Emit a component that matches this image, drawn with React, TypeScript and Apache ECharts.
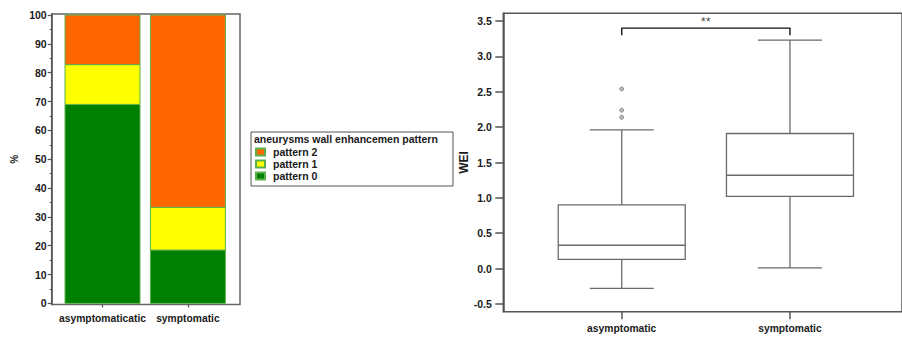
import React, { useEffect, useRef } from "react";
import * as echarts from "echarts";

// ---- Left chart data (stacked percentages) ----
const barCategories = ["asymptomaticatic", "symptomatic"];
const pattern0 = [69.0, 18.5];
const pattern1 = [13.8, 14.8];
const pattern2 = [17.2, 66.7];
const leftMajorTicks = [0, 10, 20, 30, 40, 50, 60, 70, 80, 90, 100];
const leftMinorTicks = [5, 15, 25, 35, 45, 55, 65, 75, 85, 95];
const legendTitle = "aneurysms wall enhancemen pattern";
const patternNames = ["pattern 0", "pattern 1", "pattern 2"];

// ---- Right chart data (WEI boxplots) ----
const boxCategories = ["asymptomatic", "symptomatic"];
const weiMin = [-0.28, 0.01];
const weiQ1 = [0.13, 1.02];
const weiMedian = [0.33, 1.32];
const weiQ3 = [0.9, 1.91];
const weiMax = [1.96, 3.23];
const outlierGroup = [1, 1, 1];
const outlierValues = [2.54, 2.24, 2.14];
const rightTicks = [-0.5, 0, 0.5, 1, 1.5, 2, 2.5, 3, 3.5];
const sigBracketX = [1, 1, 2, 2];
const sigBracketY = [3.3, 3.4, 3.4, 3.3];
const sigLabel = "**";
const sigLabelPos = [1.5, 3.49];

const FONT = "'Liberation Sans', Arial, Helvetica, sans-serif";
const TXT = "#1a1a1a";

export default function App() {
  const ref = useRef<HTMLDivElement>(null);
  useEffect(() => {
    if (!ref.current) return;
    const chart = echarts.init(ref.current, null, { renderer: "svg" });
    const colors = ["#008000", "#FFFF00", "#FF6600"];
    const patterns = [pattern0, pattern1, pattern2];

    // stacked table [x, low, high] built from the pattern arrays
    const barSeries = patterns.map((vals, i) => ({
      name: patternNames[i],
      type: "custom",
      xAxisIndex: 0,
      yAxisIndex: 0,
      itemStyle: { color: colors[i], borderColor: "#5cb04c", borderWidth: 1 },
      encode: { x: 0, y: [1, 2] },
      data: vals.map((v, k) => {
        let low = 0;
        for (let j = 0; j < i; j++) low += patterns[j][k];
        return [k + 1, low, low + v];
      }),
      renderItem: (params: any, api: any) => {
        const x = api.value(0);
        const pLo = api.coord([x, api.value(1)]);
        const pHi = api.coord([x, api.value(2)]);
        const hw = 37.5;
        return {
          type: "rect",
          shape: { x: pLo[0] - hw, y: pHi[1], width: hw * 2, height: pLo[1] - pHi[1] },
          style: { fill: colors[i], stroke: "#5cb04c", lineWidth: 1 },
        };
      },
    }));

    const boxData = boxCategories.map((_, k) => [
      k + 1,
      weiMin[k],
      weiQ1[k],
      weiMedian[k],
      weiQ3[k],
      weiMax[k],
    ]);

    const option: any = {
      animation: false,
      textStyle: { fontFamily: FONT },
      grid: [
        {
          left: 51.7,
          top: 14,
          width: 188.3,
          height: 290.5,
          show: true,
          borderColor: "#666",
          borderWidth: 1.5,
          backgroundColor: "transparent",
        },
        {
          left: 503.3,
          top: 13.3,
          width: 402,
          height: 298.4,
          show: true,
          borderColor: "#555",
          borderWidth: 1.5,
          backgroundColor: "transparent",
        },
      ],
      xAxis: [
        {
          type: "value",
          gridIndex: 0,
          min: 0.405,
          max: 2.61,
          position: "bottom",
          axisLine: { show: false, onZero: false },
          splitLine: { show: false },
          axisTick: {
            show: true,
            customValues: [1, 2],
            length: 3,
            lineStyle: { color: "#555", width: 1.2 },
          },
          axisLabel: {
            customValues: [1, 2],
            formatter: (v: number) => barCategories[Math.round(v) - 1] || "",
            fontSize: 10.3,
            fontWeight: "bold",
            color: TXT,
            margin: 8.5,
          },
        },
        {
          type: "value",
          gridIndex: 1,
          min: 0.296,
          max: 2.666,
          position: "bottom",
          axisLine: { show: false, onZero: false },
          splitLine: { show: false },
          axisTick: {
            show: true,
            customValues: [1, 2],
            length: 7.5,
            lineStyle: { color: "#555", width: 1.5 },
          },
          axisLabel: {
            customValues: [1, 2],
            formatter: (v: number) => boxCategories[Math.round(v) - 1] || "",
            fontSize: 10.3,
            fontWeight: "bold",
            color: TXT,
            margin: 12,
          },
        },
      ],
      yAxis: [
        {
          type: "value",
          gridIndex: 0,
          position: "left",
          min: -0.4,
          max: 100.35,
          name: "%",
          nameLocation: "middle",
          nameGap: 32,
          nameTextStyle: { fontSize: 10, fontWeight: "bold", color: TXT },
          axisLine: { show: true, onZero: false, lineStyle: { color: "#555", width: 1.5 } },
          splitLine: { show: false },
          axisTick: {
            show: true,
            customValues: leftMajorTicks,
            length: 4,
            lineStyle: { color: "#555", width: 1.2 },
          },
          axisLabel: {
            customValues: leftMajorTicks,
            fontSize: 10.5,
            fontWeight: "bold",
            color: TXT,
            margin: 5,
          },
        },
        {
          type: "value",
          gridIndex: 0,
          position: "left",
          offset: 0,
          min: -0.4,
          max: 100.35,
          axisLine: { show: false, onZero: false },
          splitLine: { show: false },
          axisTick: {
            show: true,
            customValues: leftMinorTicks,
            length: 2,
            lineStyle: { color: "#555", width: 1 },
          },
          axisLabel: { show: false },
        },
        {
          type: "value",
          gridIndex: 1,
          position: "left",
          min: -0.609,
          max: 3.609,
          name: "WEI",
          nameLocation: "middle",
          nameGap: 30,
          nameTextStyle: { fontSize: 12, fontWeight: "bold", color: TXT },
          axisLine: { show: true, onZero: false, lineStyle: { color: "#555", width: 1.5 } },
          splitLine: { show: false },
          axisTick: {
            show: true,
            customValues: rightTicks,
            length: 8,
            lineStyle: { color: "#555", width: 1.5 },
          },
          axisLabel: {
            customValues: rightTicks,
            formatter: (v: number) => v.toFixed(1),
            fontSize: 10.5,
            fontWeight: "bold",
            color: TXT,
            margin: 11.5,
          },
        },
      ],
      legend: {
        data: [patternNames[2], patternNames[1], patternNames[0]],
        orient: "vertical",
        left: 255,
        top: 146,
        padding: 0,
        itemWidth: 9,
        itemHeight: 7,
        itemGap: 0,
        icon: "rect",
        textStyle: {
          fontSize: 10.5,
          fontWeight: "bold",
          color: TXT,
          lineHeight: 12,
          padding: [0, 0, 0, 3],
        },
        selectedMode: false,
      },
      graphic: [
        {
          type: "rect",
          z: 1,
          shape: { x: 251, y: 132, width: 202, height: 54 },
          style: { fill: "#fff", stroke: "#555", lineWidth: 1 },
        },
        {
          type: "text",
          z: 2,
          style: {
            x: 254,
            y: 138.5,
            text: legendTitle,
            font: `bold 10.5px ${FONT}`,
            fill: TXT,
            verticalAlign: "middle",
          },
        },
      ],
      series: [
        ...barSeries,
        {
          type: "custom",
          xAxisIndex: 1,
          yAxisIndex: 2,
          data: boxData,
          encode: { x: 0, y: [1, 2, 3, 4, 5] },
          renderItem: (params: any, api: any) => {
            const x = api.value(0);
            const pMin = api.coord([x, api.value(1)]);
            const pQ1 = api.coord([x, api.value(2)]);
            const pMed = api.coord([x, api.value(3)]);
            const pQ3 = api.coord([x, api.value(4)]);
            const pMax = api.coord([x, api.value(5)]);
            const cx = pMed[0];
            const bh = 63.5;
            const ch = 32;
            const ls = { stroke: "#6a6a6a", lineWidth: 1.3, fill: "none" };
            return {
              type: "group",
              children: [
                {
                  type: "rect",
                  shape: { x: cx - bh, y: pQ3[1], width: bh * 2, height: pQ1[1] - pQ3[1] },
                  style: { stroke: "#6a6a6a", lineWidth: 1.3, fill: "#fff" },
                },
                { type: "line", shape: { x1: cx - bh, y1: pMed[1], x2: cx + bh, y2: pMed[1] }, style: ls },
                { type: "line", shape: { x1: cx, y1: pQ3[1], x2: cx, y2: pMax[1] }, style: ls },
                { type: "line", shape: { x1: cx, y1: pQ1[1], x2: cx, y2: pMin[1] }, style: ls },
                { type: "line", shape: { x1: cx - ch, y1: pMax[1], x2: cx + ch, y2: pMax[1] }, style: ls },
                { type: "line", shape: { x1: cx - ch, y1: pMin[1], x2: cx + ch, y2: pMin[1] }, style: ls },
              ],
            };
          },
        },
        {
          type: "scatter",
          xAxisIndex: 1,
          yAxisIndex: 2,
          symbol: "circle",
          symbolSize: 4,
          itemStyle: { color: "#aaa", borderColor: "#777", borderWidth: 1 },
          data: outlierValues.map((v, i) => [outlierGroup[i], v]),
        },
        {
          type: "line",
          xAxisIndex: 1,
          yAxisIndex: 2,
          symbol: "none",
          lineStyle: { color: "#111", width: 1.4 },
          data: sigBracketX.map((x, i) => [x, sigBracketY[i]]),
        },
        {
          type: "scatter",
          xAxisIndex: 1,
          yAxisIndex: 2,
          symbolSize: 0,
          data: [sigLabelPos],
          label: {
            show: true,
            position: "inside",
            formatter: sigLabel,
            fontSize: 13,
            color: "#222",
          },
        },
      ],
    };
    chart.setOption(option);
    return () => chart.dispose();
  }, []);
  return (
    <div
      ref={ref}
      style={{ position: "fixed", left: 0, top: 0, width: 902, height: 339, background: "#fff" }}
    />
  );
}
